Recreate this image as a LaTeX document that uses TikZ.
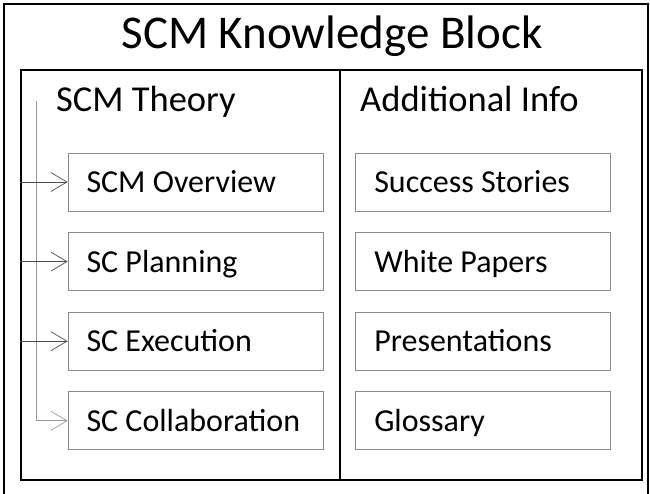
\documentclass[tikz,border=0pt]{standalone}
\usepackage{fontspec}
\setmainfont{Carlito}
\usepackage{tikz}
\usetikzlibrary{positioning,arrows.meta}

\tikzset{
  panel/.style={draw=black, line width=1.6pt, minimum height=410pt, inner sep=0pt},
  topic/.style={draw=black!45, line width=0.8pt, minimum width=255pt, minimum height=58pt,
    text width=218pt, inner xsep=18.5pt, inner ysep=0pt, align=flush left, text height=21pt, text depth=0pt,
    font=\fontsize{32}{32}\selectfont},
  heading/.style={anchor=base west, inner sep=0pt, font=\fontsize{36.5}{36.5}\selectfont},
  link/.style={draw=black!70, line width=0.7pt, -{Straight Barb[length=16pt,width=19pt,line width=0.7pt]}},
  spine/.style={draw=black!40, line width=0.9pt}
}

\begin{document}
\begin{tikzpicture}[x=1pt,y=-1pt, node distance=20.8pt and 32pt]
  \useasboundingbox (0,0) rectangle (650,494);
  % outer frame, bottom edge runs off the page
  \draw[line width=1.3pt] (4,494) -- (4,4) -- (648,4) -- (648,494);
  \node[anchor=base, font=\fontsize{47}{47}\selectfont] (title) at (332,49) {SCM Knowledge Block};

  % the two panels
  \node[panel, minimum width=319pt, anchor=north west] (theory) at (20,69) {};
  \node[panel, minimum width=302pt, anchor=north west] (info) at (339,69) {};
  \node[heading] (theoryhead) at (56,112) {SCM Theory};
  \node[heading] (infohead) at (360,112) {Additional Info};

  % left column
  \node[topic] (overview) at (195.5,182) {SCM Overview};
  \node[topic, below=of overview] (planning) {SC Planning};
  \node[topic, below=of planning] (execution) {SC Execution};
  \node[topic, below=of execution] (collab) {SC Collaboration};

  % right column
  \node[topic, right=of overview] (stories) {Success Stories};
  \node[topic, right=of planning] (papers) {White Papers};
  \node[topic, right=of execution] (slides) {Presentations};
  \node[topic, right=of collab] (glossary) {Glossary};

  % connectors
  \coordinate (spinetop) at (36,101);
  \draw[spine] (spinetop) -- (spinetop |- collab.west);
  \draw[link, draw=black!40] (spinetop |- collab.west) -- (collab.west);
  \draw[link] (theory.west |- overview.west) -- (overview.west);
  \draw[link] (theory.west |- planning.west) -- (planning.west);
  \draw[link] (theory.west |- execution.west) -- (execution.west);
\end{tikzpicture}
\end{document}
